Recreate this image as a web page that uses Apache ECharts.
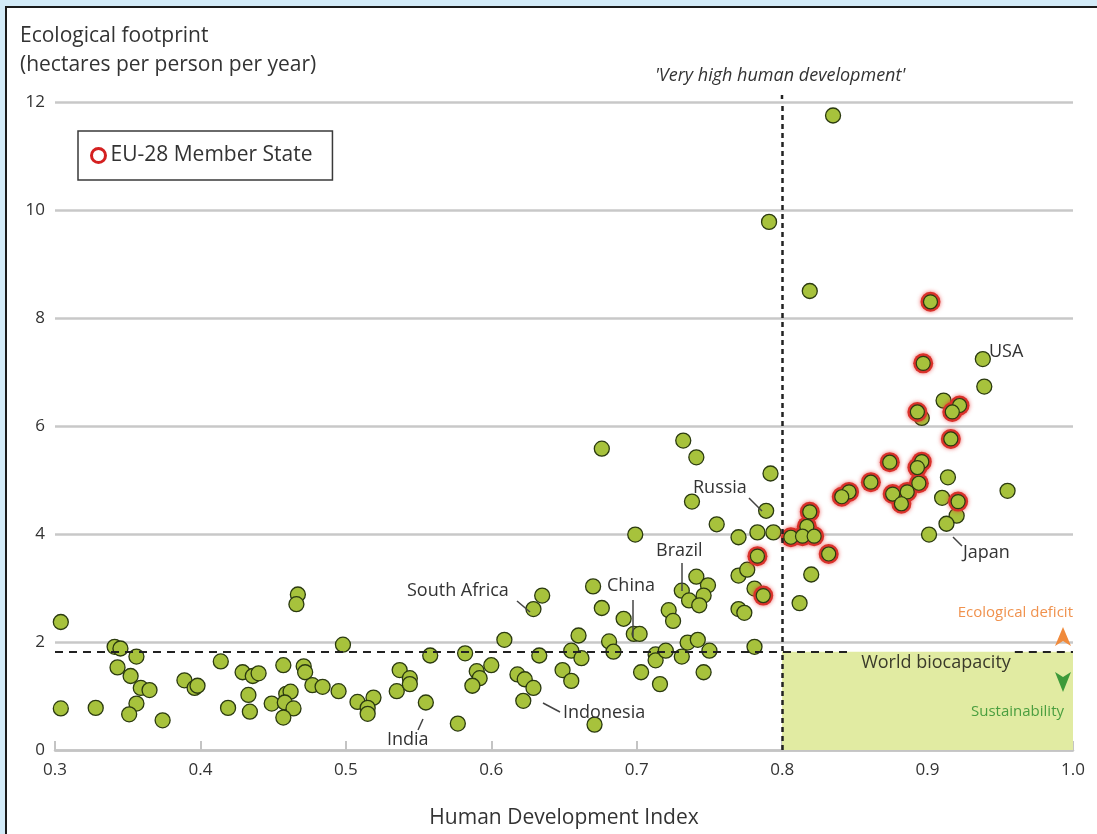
<!DOCTYPE html>
<html>
<head>
<meta charset="utf-8">
<script src="https://cdn.jsdelivr.net/npm/echarts@6/dist/echarts.min.js"></script>
<style>
html,body{margin:0;padding:0;overflow:hidden;background:#fff;}
#chart{position:absolute;left:0;top:0;width:1097px;height:834px;}
</style>
</head>
<body>
<div id="chart"></div>
<script>
// [HDI, ecological footprint]
var otherCountries = [
  [0.304,2.37],[0.304,0.77],[0.328,0.78],[0.341,1.91],[0.345,1.88],[0.356,1.73],[0.343,1.53],[0.352,1.37],
  [0.359,1.15],[0.365,1.11],[0.356,0.86],[0.351,0.66],[0.374,0.55],[0.389,1.29],[0.396,1.15],[0.398,1.19],
  [0.414,1.64],[0.419,0.78],[0.429,1.44],[0.436,1.37],[0.440,1.42],[0.433,1.02],[0.434,0.71],[0.449,0.86],
  [0.457,1.57],[0.459,1.04],[0.462,1.08],[0.458,0.88],[0.464,0.77],[0.457,0.60],[0.467,2.88],[0.466,2.70],
  [0.471,1.55],[0.472,1.44],[0.477,1.20],[0.484,1.17],[0.495,1.09],[0.498,1.95],[0.508,0.89],[0.519,0.97],
  [0.515,0.78],[0.515,0.67],[0.537,1.48],[0.535,1.09],[0.544,1.33],[0.544,1.22],[0.555,0.88],[0.558,1.75],
  [0.577,0.49],[0.582,1.79],[0.590,1.46],[0.592,1.33],[0.587,1.19],[0.600,1.57],[0.609,2.04],[0.618,1.40],
  [0.623,1.31],[0.629,1.15],[0.622,0.91],[0.629,2.61],[0.635,2.86],[0.633,1.75],[0.649,1.48],[0.655,1.28],
  [0.655,1.84],[0.660,2.12],[0.662,1.70],[0.670,3.03],[0.671,0.47],[0.676,2.63],[0.681,2.01],[0.684,1.82],
  [0.691,2.43],[0.698,2.15],[0.702,2.15],[0.703,1.44],[0.713,1.77],[0.713,1.66],[0.720,1.84],[0.716,1.22],
  [0.722,2.59],[0.725,2.39],[0.731,2.95],[0.736,2.77],[0.741,3.21],[0.749,3.05],[0.746,2.86],[0.743,2.68],
  [0.735,1.99],[0.742,2.04],[0.731,1.73],[0.750,1.84],[0.746,1.44],
  [0.676,5.58],[0.732,5.73],[0.741,5.42],[0.792,5.12],[0.738,4.60],[0.789,4.43],[0.755,4.18],[0.699,3.99],
  [0.770,3.94],[0.783,4.03],[0.794,4.03],[0.770,3.23],[0.776,3.34],[0.781,2.99],[0.770,2.61],[0.774,2.54],
  [0.781,1.91],[0.812,2.72],[0.820,3.25],
  [0.835,11.75],[0.791,9.78],[0.819,8.50],[0.938,7.24],[0.939,6.73],[0.911,6.47],[0.896,6.15],[0.914,5.05],
  [0.955,4.80],[0.910,4.67],[0.920,4.34],[0.913,4.19],[0.901,3.99]
];
var euMembers = [
  [0.783,3.59],[0.787,2.86],[0.819,4.41],[0.817,4.14],[0.806,3.94],[0.814,3.96],[0.822,3.96],[0.902,8.30],
  [0.897,7.16],[0.922,6.38],[0.917,6.26],[0.893,6.26],[0.916,5.76],[0.874,5.33],[0.896,5.34],[0.893,5.23],
  [0.921,4.60],[0.894,4.94],[0.876,4.74],[0.886,4.78],[0.882,4.56],[0.861,4.96],[0.846,4.78],[0.841,4.69],
  [0.832,3.63]
];
var worldBiocapacity = 1.82;
var veryHighHdi = 0.8;
var countryNames = ['Russia','Brazil','China','South Africa','Indonesia','India','USA','Japan'];

var font = '"Open Sans", "Noto Sans", sans-serif';
var green = '#a7c23c', dark = '#2b3a10', txt = '#333';

var chart = echarts.init(document.getElementById('chart'));

// label spots [left, middle-y] and leader lines
var labelPos = [[693,488],[656,551],[607,586],[407,591],[563,713],[387,740],[989,352],[963,553]];
var leaders = [[749,498,762,511],[682,563,682,591],[633,600,633,637],[517,601,530,612],
  [560,712,543,703],[423,719,418,730],null,[953,537,962,546]];

var graphics = [
  // page frame: light blue margin + dark border
  {type:'rect', shape:{x:0,y:0,width:1097,height:6}, style:{fill:'#d3ebf8'}},
  {type:'rect', shape:{x:0,y:0,width:5,height:834}, style:{fill:'#d3ebf8'}},
  {type:'line', shape:{x1:5,y1:7,x2:1097,y2:7}, style:{stroke:'#1b1b1b', lineWidth:2}},
  {type:'line', shape:{x1:6,y1:6,x2:6,y2:834}, style:{stroke:'#1b1b1b', lineWidth:2}},
  {type:'text', left:20, top:22, style:{text:'Ecological footprint\n(hectares per person per year)',
    fontSize:21, lineHeight:29, fontFamily:font, fill:txt}},
  {type:'text', x:655, y:76, style:{text:"'Very high human development'", fontSize:18, fontStyle:'italic',
    fontFamily:font, fill:txt, verticalAlign:'middle'}},
  {type:'text', x:936, y:663, style:{text:'World biocapacity', fontSize:18, fontFamily:font,
    fill:'#3a3a2a', align:'center', verticalAlign:'middle'}},
  {type:'text', x:1073, y:613, style:{text:'Ecological deficit', fontSize:15, fontFamily:font,
    fill:'#f0924e', align:'right', verticalAlign:'middle'}},
  {type:'text', x:1064, y:712, style:{text:'Sustainability', fontSize:15, fontFamily:font,
    fill:'#4a9e3f', align:'right', verticalAlign:'middle'}},
  {type:'polygon', shape:{points:[[1063,627],[1071,646],[1063,641],[1055,646]]}, style:{fill:'#f08a3c'}},
  {type:'polygon', shape:{points:[[1063,692],[1071,672],[1063,677],[1055,672]]}, style:{fill:'#3d9a3a'}},
  // short stub of the vertical guide above the 12 gridline
  {type:'line', shape:{x1:782,y1:95,x2:782,y2:102}, style:{stroke:'#222', lineWidth:2.5, lineDash:[4,3]}}
];
countryNames.forEach(function(n,i){
  graphics.push({type:'text', x:labelPos[i][0], y:labelPos[i][1],
    style:{text:n, fontSize:18, fontFamily:font, fill:txt, verticalAlign:'middle'}});
  var l = leaders[i];
  if(l){
    graphics.push({type:'line', shape:{x1:l[0],y1:l[1],x2:l[2],y2:l[3]},
      style:{stroke:'#444', lineWidth:1.5}});
  }
});
graphics.forEach(function(g){ g.z = 100; });

var option = {
  animation: false,
  grid: {left:55, right:24, top:102, bottom:74},
  legend: {
    data:['EU-28 Member State'], left:78, top:131, padding:[14,20,14,12],
    borderColor:'#3a3a3a', borderWidth:1.5, backgroundColor:'#fff',
    itemWidth:14, itemHeight:14, icon:'circle', selectedMode:false,
    itemStyle:{color:'#fff', borderColor:'#d42020', borderWidth:3},
    textStyle:{fontSize:21, color:txt, fontFamily:font}
  },
  xAxis: {
    type:'value', min:0.3, max:1.0, interval:0.1,
    name:'Human Development Index', nameLocation:'middle', nameGap:58,
    nameTextStyle:{fontSize:21, color:txt, fontFamily:font},
    axisLine:{lineStyle:{color:'#c4c4c4', width:2.5}},
    axisTick:{inside:true, length:9, lineStyle:{color:'#c4c4c4', width:2}},
    axisLabel:{margin:12, fontSize:17, color:txt, fontFamily:font,
      formatter:function(v){return v.toFixed(1);}},
    splitLine:{show:false}
  },
  yAxis: {
    type:'value', min:0, max:12, interval:2,
    axisLine:{show:false}, axisTick:{show:false},
    axisLabel:{margin:10, fontSize:17, color:txt, fontFamily:font},
    splitLine:{lineStyle:{color:'#c8c8c8', width:2.5}}
  },
  series: [
    {
      name:'guides', type:'scatter', data:[], z:1, silent:true,
      markArea:{silent:true, itemStyle:{color:'#e1eba2'},
        data:[[{coord:[veryHighHdi,0]},{coord:[1.0,worldBiocapacity]}]]},
      markLine:{silent:true, symbol:'none', label:{show:false},
        lineStyle:{color:'#222', width:2, type:[8,6]},
        data:[
          [{coord:[0.3,worldBiocapacity]},{coord:[0.848,worldBiocapacity]}],
          [{coord:[0.96,worldBiocapacity]},{coord:[1.0,worldBiocapacity]}],
          [{coord:[veryHighHdi,0], lineStyle:{color:'#222', width:2.5, type:[5,4]}},{coord:[veryHighHdi,12]}]
        ]}
    },
    {
      name:'Other', type:'scatter', data:otherCountries, z:3, symbolSize:15,
      itemStyle:{color:green, borderColor:dark, borderWidth:1.3, opacity:1}
    },
    {
      name:'EU-28 Member State', type:'scatter', data:euMembers, z:4, symbolSize:20,
      itemStyle:{color:'#d9322b', shadowBlur:4, shadowColor:'rgba(230,40,40,0.7)', opacity:1}
    },
    {
      name:'EU inner', type:'scatter', data:euMembers, z:5, symbolSize:14,
      itemStyle:{color:green, borderColor:dark, borderWidth:1.2, opacity:1}
    }
  ],
  graphic: graphics
};
chart.setOption(option);
</script>
</body>
</html>
